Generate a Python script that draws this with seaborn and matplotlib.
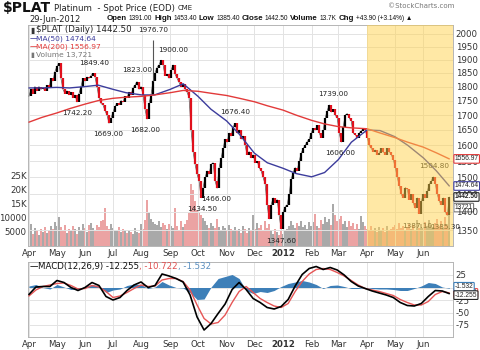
import numpy as np
import pandas as pd
import matplotlib
matplotlib.use("Agg")
import matplotlib.pyplot as plt
import matplotlib.dates as mdates
from matplotlib.ticker import FixedLocator, FixedFormatter, NullLocator
import seaborn as sns

sns.set_theme(style="white")
plt.rcParams["font.family"] = ["DejaVu Sans"]

# ---------------- data ----------------
# closes sampled evenly from 2011-04-01 to 2012-06-29
close = [
    1765, 1790, 1775, 1800, 1785, 1800, 1790, 1795, 1785, 1805, 1795, 1830, 1820, 1855, 1875,
    1886, 1830, 1790, 1775, 1785, 1770, 1780, 1760, 1770, 1745, 1775, 1800, 1830, 1820, 1835,
    1830, 1840, 1848, 1835, 1800, 1760, 1740, 1735, 1715, 1700, 1672, 1690, 1710, 1730,
    1740, 1735, 1750, 1745, 1765, 1760, 1780, 1770, 1795, 1805, 1818, 1790, 1800, 1770,
    1720, 1686, 1740, 1770, 1820, 1850, 1870, 1880, 1898, 1880, 1840, 1845, 1830, 1860,
    1880, 1845, 1830, 1815, 1800, 1810, 1790, 1780, 1760, 1650, 1580, 1540, 1510, 1490,
    1440, 1470, 1500, 1520, 1510, 1540, 1545, 1490, 1468, 1530, 1560, 1590, 1620, 1610,
    1640, 1630, 1660, 1672, 1640, 1650, 1620, 1630, 1600, 1570, 1580, 1560, 1570, 1545,
    1550, 1530, 1520, 1500, 1480, 1420, 1380, 1420, 1440, 1425, 1435, 1390, 1352, 1400,
    1415, 1420, 1450, 1495, 1515, 1530, 1520, 1550, 1575, 1590, 1600, 1612, 1620, 1640,
    1655, 1650, 1665, 1640, 1625, 1650, 1690, 1715, 1735, 1710, 1720, 1700, 1690,
    1640, 1610, 1660, 1700, 1705, 1690, 1680, 1640, 1635, 1625, 1640, 1645, 1655, 1650,
    1625, 1600, 1590, 1580, 1585, 1570, 1575, 1590, 1580, 1570, 1590, 1580, 1570,
    1555, 1530, 1500, 1475, 1450, 1440, 1470, 1465, 1435, 1450, 1425, 1410, 1440, 1395,
    1430, 1450, 1440, 1460, 1480, 1490, 1502, 1480, 1450, 1430, 1420, 1440, 1400, 1390, 1442.5,
]
volume = [
    5500, 7800, 4200, 6500, 5800, 3900, 6200, 5000, 6800, 4500, 5200, 7000, 6000, 8500, 7200,
    10200, 6800, 5500, 7400, 4800, 6000, 5200, 7300, 6100, 4400, 6900, 5600, 7800, 6300, 5000,
    7600, 8200, 6500, 5400, 7400, 6800, 8800, 9400, 13500, 7200, 6000, 7900, 6400, 5200,
    5300, 6700, 4900, 6200, 5600, 4500, 5800, 5000, 4200, 6400, 5100, 4700, 7800, 6000,
    9200, 16500, 12000, 9800, 8500, 8000, 7400, 9000, 6800, 8300, 7600, 6200, 8000, 7000,
    6500, 13500, 7200, 5800, 8800, 6900, 7700, 9200, 12000, 22000, 20000, 16000, 13000, 12000,
    11000, 10000, 8800, 7500, 6400, 8200, 7000, 6500, 9600, 6800, 5800, 7200, 6300, 5500,
    7400, 6200, 5600, 6800, 5200, 6100, 4800, 7000, 5900, 4600, 6500, 5300, 11000, 6000,
    8200, 6500, 7400, 5600, 8800, 6300, 7800, 5800, 4400, 6200, 5100, 4000, 5600, 4300,
    5200, 6100, 7200, 8800, 7600, 6400, 8200, 7000, 9000, 6800, 7500, 5900, 8400, 7200,
    8600, 11500, 7300, 6600, 9400, 7700, 10200, 8400, 9800, 7500, 15000, 11200, 8800,
    9600, 10600, 7900, 8800, 6800, 9100, 7300, 8200, 6200, 7700, 5900, 10800, 8400, 7000,
    6200, 5400, 7000, 5800, 6600, 5100, 6900, 5500, 6300, 4900, 7200, 5700, 6100,
    6800, 7600, 5900, 8300, 6400, 7100, 5600, 6700, 8000, 6200, 7400, 5800, 9200, 6600,
    7800, 6400, 8600, 7000, 9400, 7600, 6800, 8200, 9800, 7200, 8800, 6600, 10200, 7400, 13721,
]
# moving averages on the 1st and 15th of each month, plus the last day
ma50 = [1795, 1795, 1797, 1795, 1800, 1805, 1790, 1778, 1770, 1770, 1790, 1810, 1765, 1720,
        1680, 1635, 1575, 1545, 1528, 1512, 1502, 1515, 1555, 1610, 1650, 1648, 1628, 1600,
        1560, 1520, 1474.64]
ma200 = [1676, 1692, 1707, 1722, 1738, 1750, 1758, 1762, 1765, 1770, 1778, 1786, 1783, 1776,
         1768, 1758, 1746, 1732, 1717, 1700, 1682, 1670, 1661, 1657, 1654, 1640, 1625, 1610,
         1594, 1576, 1556.97]
# weekly MACD(12,26,9) and signal
macd = [-14, 1, 2, 2, 14, 10, 0, -6, 0, 10, 4, -18, -25, -20, -6, 5, 11, 0, 4, 27, 23, 18,
        11, -15, -59, -85, -72, -52, -33, -4, 10, -4, -22, -30, -40, -43, -38, -24, 3, 26,
        38, 42, 36, 40, 35, 25, 12, 3, -2, -7, -11, -15, -20, -30, -36, -37, -32, -18, -6,
        -7, -12.255]
signal = [-17, -5, 2, 5, 8, 9, 4, -3, -2, 4, 1, -8, -20, -17, -10, -2, 5, 2, 3, 15, 18, 18,
          12, -5, -35, -62, -73, -70, -55, -30, -8, 2, -10, -22, -30, -37, -40, -32, -8, 12,
          27, 36, 38, 36, 30, 23, 14, 5, -2, -5, -8, -12, -16, -24, -30, -35, -35, -28, -14,
          -8, -10.722]
# labelled highs (+1) and lows (-1)
mark_labels = ["1976.70", "1900.00", "1849.40", "1823.00", "1742.20", "1669.00", "1682.00",
               "1676.40", "1466.00", "1434.50", "1347.60", "1739.00", "1606.00", "1504.80",
               "1387.10", "1385.30"]
mark_dates = ["2011-08-13", "2011-09-04", "2011-06-11", "2011-07-27", "2011-05-23",
              "2011-06-26", "2011-08-05", "2011-11-10", "2011-10-21", "2011-10-05",
              "2011-12-30", "2012-02-24", "2012-03-03", "2012-06-13", "2012-05-25",
              "2012-06-24"]
mark_values = [1976.70, 1900.00, 1849.40, 1823.00, 1742.20, 1669.00, 1682.00, 1676.40,
               1466.00, 1434.50, 1347.60, 1739.00, 1606.00, 1504.80, 1387.10, 1385.30]
mark_side = [1, 1, 1, 1, -1, -1, -1, 1, -1, -1, -1, 1, -1, 1, -1, -1]
month_labels = ["Apr", "May", "Jun", "Jul", "Aug", "Sep", "Oct", "Nov", "Dec", "2012",
                "Feb", "Mar", "Apr", "May", "Jun"]
price_ticks = [1350, 1400, 1450, 1500, 1550, 1600, 1650, 1700, 1750, 1800, 1850, 1900, 1950, 2000]
vol_ticks = [5000, 10000, 15000, 20000, 25000]
vol_tick_labels = ["5000", "10000", "15K", "20K", "25K"]
macd_ticks = [25, 0, -25, -50, -75]
quote_parts = [("Open", True), ("1391.00", False), ("High", True), ("1453.40", False),
               ("Low", True), ("1385.40", False), ("Close", True), ("1442.50", False),
               ("Volume", True), ("13.7K", False), ("Chg", True), ("+43.90 (+3.14%) ▲", False)]

# ---------------- dates ----------------
d = pd.date_range("2011-04-01", "2012-06-29", periods=len(close))
months = pd.date_range("2011-04-01", "2012-06-01", freq="MS")
ma_dates = sorted(list(months) + list(months + pd.Timedelta(days=14))) + [pd.Timestamp("2012-06-29")]
macd_dates = pd.date_range("2011-04-01", "2012-06-29", periods=len(macd))
xmin, xmax = pd.Timestamp("2011-03-31"), pd.Timestamp("2012-07-03")

W, H = 480, 350
fig = plt.figure(figsize=(4.8, 3.5), dpi=100)
fig.patch.set_facecolor("white")

def rect(l, t, r, b):
    return [l / W, 1 - b / H, (r - l) / W, (b - t) / H]

ax_vol = fig.add_axes(rect(28, 25, 453, 246))
ax = fig.add_axes(rect(28, 25, 453, 246), sharex=ax_vol)
ax.patch.set_alpha(0)
axm = fig.add_axes(rect(28, 262, 453, 337))

grid_c = "#e3e3e3"
txt_c = "#333333"
NARROW = ["Liberation Sans", "DejaVu Sans"]

# ---- volume ----
close_arr = np.array(close)
up = np.r_[True, close_arr[1:] >= close_arr[:-1]]
vcol = np.where(up, "#a9a9a9", "#eba3a3")
ax_vol.bar(d, volume, width=1.8, color=vcol, linewidth=0, zorder=1)
ax_vol.set_ylim(0, 78900)
ax_vol.set_xlim(xmin, xmax)
ax_vol.yaxis.set_major_locator(FixedLocator(vol_ticks))
ax_vol.yaxis.set_major_formatter(FixedFormatter(vol_tick_labels))
ax_vol.tick_params(axis="y", labelsize=6.2, length=0, pad=1, labelcolor=txt_c)
ax_vol.tick_params(axis="x", length=0, labelbottom=False)
for s in ax_vol.spines.values():
    s.set_visible(False)

# ---- price ----
ax.set_yscale("log")
ax.set_ylim(1307.5, 2036.4)
for v in price_ticks:
    ax.axhline(v, color=grid_c, lw=0.7, zorder=0)
for m in months:
    ax.axvline(m, color=grid_c, lw=0.7, zorder=0)

ax.plot(d, close, color="#555555", lw=0.5, zorder=3)
segs_up = [(d[i], close[i - 1], close[i]) for i in range(1, len(close)) if close[i] >= close[i - 1]]
segs_dn = [(d[i], close[i - 1], close[i]) for i in range(1, len(close)) if close[i] < close[i - 1]]
ax.vlines([s[0] for s in segs_up], [s[1] for s in segs_up], [s[2] for s in segs_up],
          color="black", lw=1.6, zorder=4)
ax.vlines([s[0] for s in segs_dn], [s[1] for s in segs_dn], [s[2] for s in segs_dn],
          color="#e0101c", lw=1.6, zorder=4)

ma_df = pd.DataFrame({"date": ma_dates, "ma50": ma50, "ma200": ma200})
sns.lineplot(data=ma_df, x="date", y="ma50", ax=ax, color="#3c3c9c", lw=1.0, zorder=5)
sns.lineplot(data=ma_df, x="date", y="ma200", ax=ax, color="#e23a3a", lw=1.0, zorder=5)

# spike high
i_sp = int(np.argmin(np.abs(d - pd.Timestamp(mark_dates[0]))))
ax.vlines(pd.Timestamp(mark_dates[0]), close[i_sp], mark_values[0], color="#555555", lw=0.8, zorder=4)

for lab, dt, val, sd in zip(mark_labels, mark_dates, mark_values, mark_side):
    ax.annotate(lab, xy=(pd.Timestamp(dt), val), xytext=(0, 7 * sd), textcoords="offset points",
                ha="center", va="center", fontsize=5.2, color="#222222", zorder=7)

# shading of the last quarter
ax.axvspan(pd.Timestamp("2012-04-01"), xmax, color="#ffd24d", alpha=0.5, lw=0, zorder=10)

ax.set_xlim(xmin, xmax)
ax.yaxis.tick_right()
ax.yaxis.set_major_locator(FixedLocator(price_ticks))
ax.yaxis.set_major_formatter(FixedFormatter([str(v) for v in price_ticks]))
ax.yaxis.set_minor_locator(NullLocator())
ax.tick_params(axis="y", labelsize=6.2, length=0, pad=2, labelcolor=txt_c)
ax.set_xlabel("")
ax.set_ylabel("")
for s in ax.spines.values():
    s.set_color("#b5b5b5")
    s.set_linewidth(0.7)

ax.xaxis.set_major_locator(FixedLocator(mdates.date2num(months)))
ax.xaxis.set_major_formatter(FixedFormatter(month_labels))
ax.tick_params(axis="x", labelsize=6.2, length=0, pad=2, labelcolor=txt_c)
for t in ax.get_xticklabels():
    if t.get_text() == "2012":
        t.set_fontweight("bold")

# value boxes at right
def vbox(a, txt, y, ec, bold=False, size=4.8):
    a.annotate(txt, xy=(1.0, y), xycoords=("axes fraction", "data"), xytext=(1.2, 0),
               textcoords="offset points", ha="left", va="center", fontsize=size,
               family=NARROW, fontweight="bold" if bold else "normal", color="#222222",
               bbox=dict(boxstyle="round,pad=0.12", fc="white", ec=ec, lw=0.8),
               annotation_clip=False, zorder=12)

vbox(ax, "1556.97", ma200[-1], "#e23a3a")
vbox(ax, "1474.64", ma50[-1], "#3c3c9c")
vbox(ax_vol, "13721", volume[-1], "#777777")
vbox(ax, "1442.50", close[-1], "#222222", bold=True, size=4.7)

# ---- MACD ----
hist = np.array(macd) - np.array(signal)
for v in macd_ticks:
    axm.axhline(v, color=grid_c, lw=0.7, zorder=0)
for m in months:
    axm.axvline(m, color=grid_c, lw=0.7, zorder=0)
axm.fill_between(macd_dates, hist, 0, color="#3d7fb8", lw=0, zorder=2)
mdf = pd.DataFrame({"date": macd_dates, "macd": macd, "signal": signal})
sns.lineplot(data=mdf, x="date", y="signal", ax=axm, color="#e65555", lw=1.0, zorder=3)
sns.lineplot(data=mdf, x="date", y="macd", ax=axm, color="black", lw=1.2, zorder=4)
axm.set_xlim(xmin, xmax)
axm.set_ylim(-99, 51)
axm.yaxis.tick_right()
axm.yaxis.set_major_locator(FixedLocator(macd_ticks))
axm.yaxis.set_major_formatter(FixedFormatter([str(v) for v in macd_ticks]))
axm.tick_params(axis="y", labelsize=6.2, length=0, pad=2, labelcolor=txt_c)
axm.xaxis.set_major_locator(FixedLocator(mdates.date2num(months)))
axm.xaxis.set_major_formatter(FixedFormatter(month_labels))
axm.tick_params(axis="x", labelsize=6.2, length=0, pad=2, labelcolor=txt_c)
for t in axm.get_xticklabels():
    if t.get_text() == "2012":
        t.set_fontweight("bold")
axm.set_xlabel("")
axm.set_ylabel("")
for s in axm.spines.values():
    s.set_color("#b5b5b5")
    s.set_linewidth(0.7)
vbox(axm, "-10.722", signal[-1], "#e65555", size=4.8)
vbox(axm, "-1.532", hist[-1] + 3, "#3d7fb8", size=4.8)
vbox(axm, "-12.255", macd[-1] - 3, "#222222", size=4.8)

# ---- texts ----
renderer = fig.canvas.get_renderer()

def ft(x, y, s, **kw):
    return fig.text(x / W, 1 - y / H, s, va="center", **kw)

def seq(x, y, items, gap=2.5, x_end=None):
    """Place texts one after another; shrink them so the row ends near x_end."""
    scale = 1.0
    for _ in range(3):
        xs, arts = x, []
        for s, kw in items:
            kw = dict(kw)
            kw["fontsize"] = kw["fontsize"] * scale
            t = ft(xs, y, s, **kw)
            arts.append(t)
            xs += t.get_window_extent(renderer).width + gap
        if x_end is None or xs - gap <= x_end + 1:
            return xs
        text_w = xs - gap - x - gap * (len(items) - 1)
        scale *= (x_end - x - gap * (len(items) - 1)) / text_w
        for t in arts:
            t.remove()
    return xs

seq(3, 8.5, [("$PLAT", dict(fontsize=10, fontweight="bold", color="#111111")),
             ("Platinum  - Spot Price (EOD)", dict(fontsize=6.2, color="#222222")),
             ("CME", dict(fontsize=5.0, color="#222222"))], gap=3)
ft(388, 6, "©StockCharts.com", fontsize=5, color="#777777")
ft(29, 19, "29-Jun-2012", fontsize=6, color="#222222")
seq(107, 19, [(s, dict(fontsize=7.0 if b else 5.8, fontweight="bold" if b else "normal",
                       family=NARROW, color="#111111")) for s, b in quote_parts],
    gap=1.8, x_end=416)

ft(30, 30, "▮", fontsize=5.5, color="#333333")
ft(36, 30, "$PLAT (Daily) 1442.50", fontsize=6.2, color="#222222")
ft(30, 38.5, "—", fontsize=5.5, color="#3c3c9c")
ft(36, 38.5, "MA(50) 1474.64", fontsize=5.4, color="#3c3c9c")
ft(30, 46.5, "—", fontsize=5.5, color="#e23a3a")
ft(36, 46.5, "MA(200) 1556.97", fontsize=5.4, color="#e23a3a")
ft(30, 54.5, "▮", fontsize=5, color="#777777")
ft(36, 54.5, "Volume 13,721", fontsize=5.4, color="#777777")

ft(30, 267, "—", fontsize=6, color="black")
seq(38, 267, [("MACD(12,26,9) -12.255", dict(fontsize=6.2, color="#111111")),
              (", -10.722", dict(fontsize=6.2, color="#e05050")),
              (", -1.532", dict(fontsize=6.2, color="#5a8fc0"))], gap=0)

fig.savefig("out.png", dpi=100, facecolor="white")
